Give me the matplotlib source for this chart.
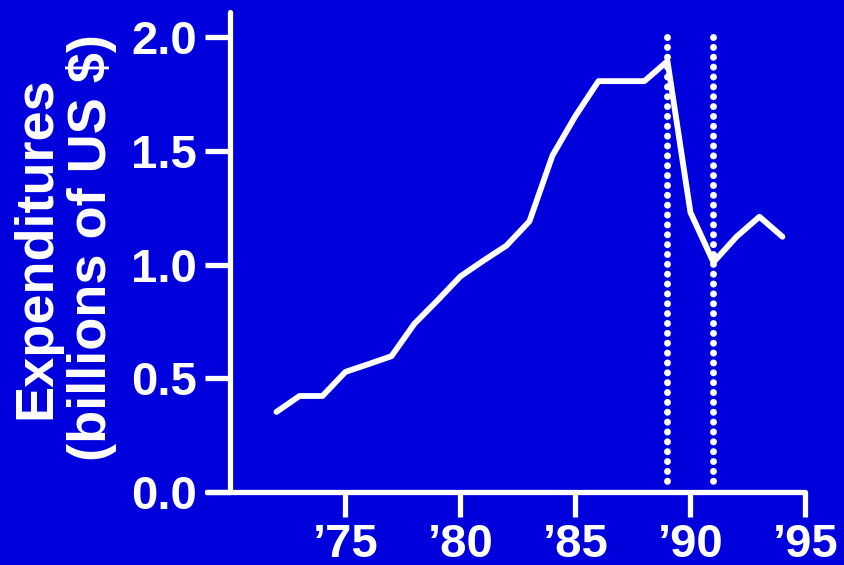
import matplotlib
matplotlib.use("Agg")
import matplotlib.pyplot as plt

years = list(range(1972, 1995))
spending = [0.352, 0.422, 0.422, 0.528, 0.562, 0.597, 0.740, 0.842, 0.948,
            1.017, 1.083, 1.190, 1.479, 1.653, 1.806, 1.806, 1.806, 1.894,
            1.229, 1.010, 1.122, 1.210, 1.122]
event_years = [1989, 1991]
xticks = [1975, 1980, 1985, 1990, 1995]
xtick_labels = ["\u201975", "\u201980", "\u201985", "\u201990", "\u201995"]
yticks = [0.0, 0.5, 1.0, 1.5, 2.0]

bg = "#0000DC"
plt.rcParams["font.family"] = ["Liberation Sans", "DejaVu Sans"]
plt.rcParams["font.weight"] = "bold"

fig = plt.figure(figsize=(8.45, 5.65), dpi=100, facecolor=bg)
ax = fig.add_axes([0.2455, 0.1292, 0.7077, 0.8496], facecolor=bg)

ax.plot(years, spending, color="white", lw=4.2, solid_capstyle="round",
        solid_joinstyle="round", zorder=3)
# dotted markers for the two event years
for yr in event_years:
    ax.plot([yr, yr], [2.0, 0.04], color="white", lw=5.0,
            linestyle=(0, (0.01, 1.41)), dash_capstyle="round", zorder=2)

ax.set_xlim(1969, 1995)
ax.set_ylim(0, 2.11)
ax.spines["top"].set_visible(False)
ax.spines["right"].set_visible(False)
for s in ["left", "bottom"]:
    ax.spines[s].set_color("white")
    ax.spines[s].set_linewidth(3.8)
    ax.spines[s].set_capstyle("round")
ax.spines["left"].set_position(("data", 1970))

ax.set_xticks(xticks)
ax.set_xticklabels(xtick_labels)
ax.set_yticks(yticks)
ax.set_yticklabels([f"{v:.1f}" for v in yticks])
ax.tick_params(axis="x", colors="white", length=18, width=3.8, pad=4,
               labelsize=34)
ax.tick_params(axis="y", colors="white", length=18, width=3.8, pad=6,
               labelsize=34)

fig.text(0.0757, 0.562, "Expenditures\n(billions of US $)", color="white",
         fontsize=39, fontweight="bold", rotation=90, ha="center",
         va="center", multialignment="center", linespacing=1.12)

fig.savefig("out.png", dpi=100, facecolor=bg)
